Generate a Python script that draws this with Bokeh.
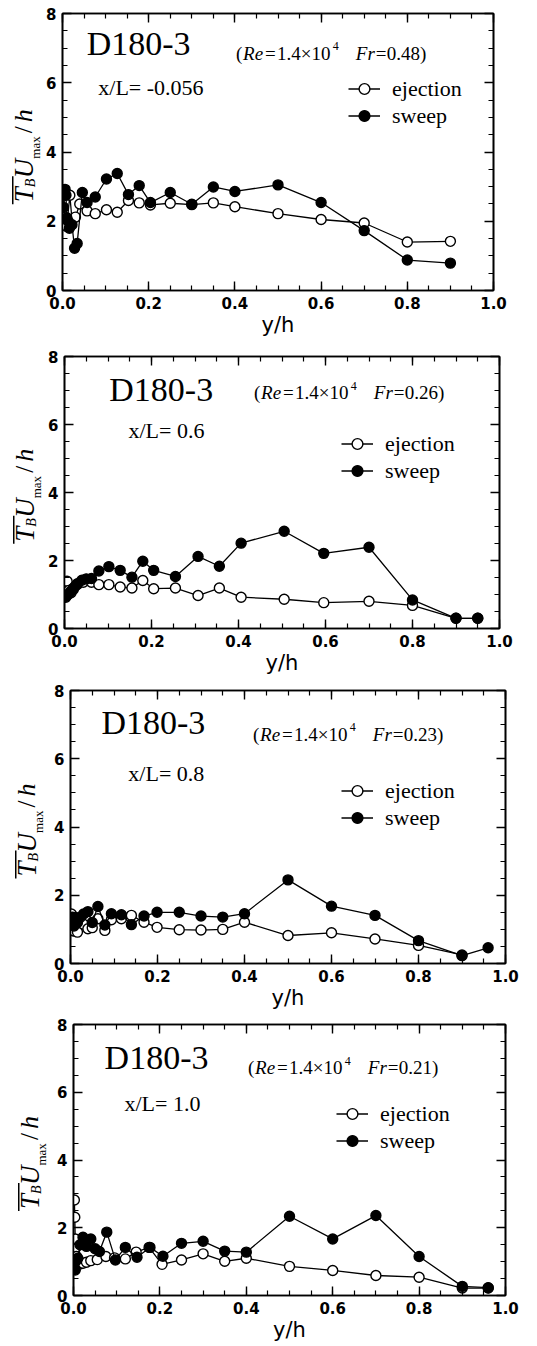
from math import pi
from bokeh.plotting import figure
from bokeh.models import (Range1d, FixedTicker, LinearAxis, PrintfTickFormatter, Label,
                          Legend, LegendItem, BoxAnnotation, CustomLabelingPolicy)
from bokeh.layouts import column, row
from bokeh.embed import file_html
from bokeh.resources import INLINE

# ---------------- data ----------------
# Panel 1: x/L = -0.056, Fr = 0.48
ej1_x = [0.003, 0.006, 0.010, 0.017, 0.022, 0.030, 0.040, 0.057, 0.076, 0.102, 0.127, 0.153,
         0.178, 0.204, 0.25, 0.30, 0.35, 0.40, 0.50, 0.60, 0.70, 0.80, 0.90]
ej1_y = [2.85, 2.00, 1.85, 2.75, 2.05, 2.12, 2.50, 2.30, 2.22, 2.33, 2.26, 2.60,
         2.53, 2.47, 2.52, 2.48, 2.53, 2.42, 2.22, 2.05, 1.95, 1.40, 1.42]
sw1_x = [0.002, 0.004, 0.006, 0.008, 0.010, 0.013, 0.016, 0.022, 0.028, 0.034, 0.046, 0.057,
         0.076, 0.102, 0.127, 0.153, 0.178, 0.204, 0.25, 0.30, 0.35, 0.40, 0.50, 0.60, 0.70,
         0.80, 0.90]
sw1_y = [2.40, 2.78, 2.92, 2.75, 2.10, 2.00, 1.80, 1.90, 1.22, 1.36, 2.83, 2.54,
         2.70, 3.22, 3.38, 2.77, 3.03, 2.54, 2.83, 2.49, 2.99, 2.86, 3.05, 2.54, 1.73,
         0.88, 0.79]

# Panel 2: x/L = 0.6, Fr = 0.26
ej2_x = [0.003, 0.006, 0.010, 0.015, 0.020, 0.030, 0.043, 0.062, 0.079, 0.102, 0.128, 0.155,
         0.18, 0.205, 0.255, 0.307, 0.356, 0.406, 0.505, 0.596, 0.70, 0.80, 0.90, 0.95]
ej2_y = [1.00, 1.39, 1.12, 1.05, 1.15, 1.30, 1.36, 1.36, 1.29, 1.29, 1.22, 1.19,
         1.41, 1.17, 1.19, 0.97, 1.19, 0.92, 0.86, 0.76, 0.80, 0.68, 0.30, 0.30]
sw2_x = [0.003, 0.006, 0.010, 0.015, 0.020, 0.025, 0.030, 0.040, 0.050, 0.062, 0.079, 0.102,
         0.128, 0.155, 0.18, 0.205, 0.255, 0.307, 0.356, 0.406, 0.505, 0.596, 0.70, 0.80,
         0.90, 0.95]
sw2_y = [0.92, 0.98, 1.02, 1.10, 1.18, 1.25, 1.32, 1.42, 1.46, 1.47, 1.69, 1.82,
         1.71, 1.51, 1.98, 1.71, 1.53, 2.12, 1.83, 2.51, 2.86, 2.21, 2.39, 0.84,
         0.30, 0.30]

# Panel 3: x/L = 0.8, Fr = 0.23
ej3_x = [0.002, 0.005, 0.008, 0.012, 0.016, 0.022, 0.030, 0.040, 0.050, 0.063, 0.079, 0.094,
         0.117, 0.14, 0.169, 0.199, 0.25, 0.30, 0.35, 0.40, 0.50, 0.60, 0.70, 0.80, 0.90]
ej3_y = [1.45, 1.10, 0.95, 1.35, 0.92, 1.20, 1.15, 1.02, 1.05, 1.31, 0.97, 1.28,
         1.31, 1.41, 1.21, 1.06, 0.99, 0.98, 1.00, 1.21, 0.82, 0.90, 0.72, 0.53, 0.25]
sw3_x = [0.002, 0.005, 0.008, 0.012, 0.016, 0.022, 0.030, 0.040, 0.050, 0.063, 0.079, 0.094,
         0.117, 0.14, 0.169, 0.199, 0.25, 0.30, 0.35, 0.40, 0.50, 0.60, 0.70, 0.80, 0.90,
         0.96]
sw3_y = [1.20, 1.36, 1.10, 1.30, 1.20, 1.35, 1.45, 1.52, 1.20, 1.67, 1.13, 1.46,
         1.43, 1.14, 1.39, 1.50, 1.50, 1.39, 1.36, 1.46, 2.45, 1.68, 1.41, 0.67, 0.23,
         0.46]

# Panel 4: x/L = 1.0, Fr = 0.21
ej4_x = [0.002, 0.003, 0.004, 0.005, 0.007, 0.010, 0.015, 0.022, 0.030, 0.040, 0.055, 0.075,
         0.095, 0.12, 0.145, 0.175, 0.205, 0.25, 0.30, 0.35, 0.40, 0.50, 0.60, 0.70, 0.80,
         0.90, 0.96]
ej4_y = [2.82, 2.31, 1.67, 1.40, 1.15, 0.95, 0.93, 0.95, 0.98, 1.03, 1.06, 1.15,
         1.11, 1.08, 1.28, 1.42, 0.92, 1.05, 1.23, 1.01, 1.10, 0.86, 0.74, 0.59, 0.54,
         0.22, 0.22]
sw4_x = [0.002, 0.004, 0.006, 0.010, 0.015, 0.022, 0.030, 0.040, 0.050, 0.060, 0.077, 0.097,
         0.12, 0.147, 0.177, 0.207, 0.25, 0.30, 0.35, 0.40, 0.50, 0.60, 0.70, 0.80, 0.90,
         0.96]
sw4_y = [0.95, 0.75, 1.03, 1.10, 1.50, 1.72, 1.45, 1.67, 1.38, 1.30, 1.87, 1.05,
         1.42, 1.13, 1.42, 1.16, 1.54, 1.60, 1.31, 1.28, 2.34, 1.67, 2.36, 1.15, 0.27,
         0.23]

case_label = "D180-3"
xl_labels = ["x/L= -0.056", "x/L= 0.6", "x/L= 0.8", "x/L= 1.0"]
fr_values = ["0.48", "0.26", "0.23", "0.21"]
series_names = ["ejection", "sweep"]
x_ticks = [0.0, 0.2, 0.4, 0.6, 0.8, 1.0]
y_ticks = [0, 2, 4, 6, 8]

data = [(ej1_x, ej1_y, sw1_x, sw1_y), (ej2_x, ej2_y, sw2_x, sw2_y),
        (ej3_x, ej3_y, sw3_x, sw3_y), (ej4_x, ej4_y, sw4_x, sw4_y)]

# ---------------- layout (page pixels, page origin at 0,0) ----------------
ROW_W = 530
BL = 18   # left border of each main panel (room for the y tick labels)
layout = [
    dict(left=61, fw=432, top=13, fh=277, height=348, tc=23,
         case=(0.056, 7.14), re=(174, 6.85), xl=(0.083, 5.87), leg=(286, 161)),
    dict(left=63, fw=436, top=8, fh=272, height=334, tc=24,
         case=(0.103, 7.03), re=(190, 6.94), xl=(0.147, 5.82), leg=(277, 144)),
    dict(left=69, fw=436, top=8, fh=273, height=334, tc=26,
         case=(0.071, 7.07), re=(183, 6.72), xl=(0.133, 5.57), leg=(271, 132)),
    dict(left=72, fw=433, top=8, fh=271, height=328, tc=29,
         case=(0.072, 7.02), re=(175, 6.73), xl=(0.118, 5.66), leg=(263, 141)),
]

SERIF = "Liberation Serif"
SANS = "DejaVu Sans"

hide_all = CustomLabelingPolicy(code="""
for (const i of Array.from(indices)) { indices.unset(i) }
return indices
""")


def style_axis(ax, ticks, minor, fmt, labels=True, standoff=6):
    ax.ticker = FixedTicker(ticks=ticks, minor_ticks=minor)
    ax.axis_line_color = "black"
    ax.axis_line_width = 1.6
    ax.major_tick_in = 9
    ax.major_tick_out = 0
    ax.minor_tick_in = 5
    ax.minor_tick_out = 0
    ax.major_tick_line_color = "black"
    ax.minor_tick_line_color = "black"
    ax.major_tick_line_width = 1.4
    ax.minor_tick_line_width = 1.2
    ax.formatter = PrintfTickFormatter(format=fmt)
    if labels:
        ax.major_label_text_font = SANS
        ax.major_label_text_font_style = "bold"
        ax.major_label_text_font_size = "15px"
        ax.major_label_text_color = "black"
        ax.major_label_standoff = standoff
    else:
        ax.major_label_policy = hide_all
        ax.major_label_text_font_size = "1px"
        ax.major_label_standoff = 0


def add_text(p, x, y, text, size, italic=False, font=SERIF, angle=0.0):
    p.add_layout(Label(x=x, y=y, text=text, text_font=font, text_font_size=f"{size}px",
                       text_font_style="italic" if italic else "normal", angle=angle,
                       text_align="left", text_baseline="middle", text_color="black"))


x_minor = [round(0.05 * i, 2) for i in range(21)]
y_minor = [0.5 * i for i in range(17)]

rows = []
for k, (lay, (ex, ey, sx, sy)) in enumerate(zip(layout, data)):
    H = lay["height"]
    lw = lay["left"] - BL
    W = ROW_W - lw
    br = W - BL - lay["fw"]
    bb = H - lay["top"] - lay["fh"]
    ppu = lay["fh"] / 8.0   # pixels per y unit

    # ---- narrow figure holding the rotated y-axis title
    q = figure(width=lw, height=H, x_range=Range1d(0, lw), y_range=Range1d(0, 8),
               x_axis_type=None, y_axis_type=None, output_backend="svg", toolbar_location=None,
               min_border_left=0, min_border_right=0, min_border_top=lay["top"],
               min_border_bottom=bb)
    q.outline_line_color = None
    q.xgrid.visible = False
    q.ygrid.visible = False
    q.background_fill_color = "white"
    q.border_fill_color = "white"
    tc = lay["tc"]
    s = 2.55
    ylab = [(0, 0, "T", True, 27), (7, 15, "B", True, 14), (0, 24, "U", True, 27),
            (12, 43.5, "max", False, 13), (0, 69, "/", False, 25), (0, 80, "h", True, 26)]
    for dx, dy, txt, it, sz in ylab:
        add_text(q, tc + dx, s + dy / ppu, txt, sz, italic=it, angle=pi / 2)
    q.add_layout(BoxAnnotation(left=tc - 11.5, right=tc - 10, bottom=s - 2 / ppu, top=s + 26 / ppu,
                               fill_color="black", fill_alpha=1.0, line_alpha=0.0))

    # ---- main panel
    p = figure(width=W, height=H, x_range=Range1d(0, 1), y_range=Range1d(0, 8),
               output_backend="svg", toolbar_location=None,
               min_border_left=BL, min_border_right=br, min_border_top=lay["top"],
               min_border_bottom=bb)
    p.xgrid.visible = False
    p.ygrid.visible = False
    p.outline_line_color = "black"
    p.outline_line_width = 1.6
    p.outline_line_alpha = 1.0
    p.background_fill_color = "white"
    p.border_fill_color = "white"

    style_axis(p.xaxis[0], x_ticks, x_minor, "%.1f", standoff=6)
    style_axis(p.yaxis[0], y_ticks, y_minor, "%d", standoff=6)
    p.xaxis[0].axis_label = "y/h"
    p.xaxis[0].axis_label_text_font = SANS
    p.xaxis[0].axis_label_text_font_style = "normal"
    p.xaxis[0].axis_label_text_font_size = "21px"
    p.xaxis[0].axis_label_text_color = "black"
    p.xaxis[0].axis_label_standoff = 1

    top_ax = LinearAxis()
    style_axis(top_ax, x_ticks, x_minor, "%.1f", labels=False)
    p.add_layout(top_ax, "above")
    right_ax = LinearAxis()
    style_axis(right_ax, y_ticks, y_minor, "%d", labels=False)
    p.add_layout(right_ax, "right")

    le = p.line(ex, ey, line_color="black", line_width=1.3)
    se = p.scatter(ex, ey, marker="circle", size=10, fill_color="white", line_color="black", line_width=1.4)
    ls = p.line(sx, sy, line_color="black", line_width=1.3)
    ss = p.scatter(sx, sy, marker="circle", size=10, fill_color="black", line_color="black", line_width=1.4)

    legend = Legend(items=[LegendItem(label=series_names[0], renderers=[le, se]),
                           LegendItem(label=series_names[1], renderers=[ls, ss])],
                    location=lay["leg"], orientation="vertical", glyph_width=32, glyph_height=27,
                    spacing=0, padding=0, margin=0, label_standoff=12, label_height=27,
                    label_text_font=SERIF, label_text_font_size="22px", label_text_color="black",
                    border_line_alpha=0, background_fill_alpha=0)
    p.add_layout(legend)

    fw = lay["fw"]
    add_text(p, lay["case"][0], lay["case"][1], case_label, 34)
    add_text(p, lay["xl"][0], lay["xl"][1], xl_labels[k], 22)

    rx0, ry = lay["re"]
    pieces = [(0, "(", False, 19, 0.0), (7, "Re", True, 19, 0.0), (29, "=", False, 19, 0.0),
              (41, "1.4\u00d710", False, 19, 0.0), (97, "4", False, 12, 7.0),
              (120, "Fr", True, 19, 0.0), (140, "=", False, 19, 0.0),
              (151, fr_values[k] + ")", False, 19, 0.0)]
    for off, txt, it, sz, dy in pieces:
        add_text(p, (rx0 + off) / fw, ry + dy / ppu, txt, sz, italic=it)

    rows.append(row(q, p, spacing=0))

page = column(*rows, spacing=0)
open("out.html", "w").write(file_html(page, INLINE))
